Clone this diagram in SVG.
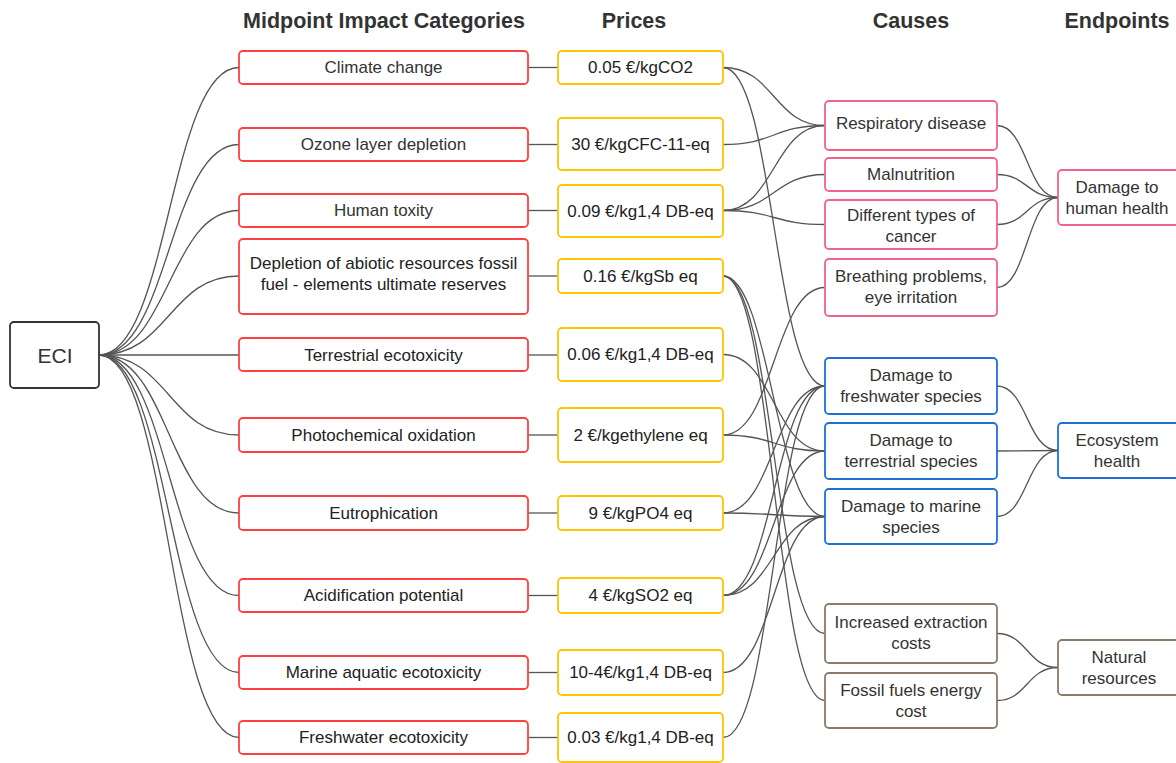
<svg xmlns="http://www.w3.org/2000/svg" width="1176" height="763" viewBox="0 0 1176 763">
<style>
text{font-family:"Liberation Sans",Arial,sans-serif;font-size:17px;text-anchor:middle;dominant-baseline:central;fill:#222}
.h{font-size:21.5px;font-weight:bold;fill:#333;dominant-baseline:auto}
rect{fill:#fff;stroke-width:1.8}
.eci{stroke:#333}
.mid{stroke:#ff4040}
.pr{stroke:#ffc500}
.pk{stroke:#f0648c}
.bl{stroke:#1f6fd6}
.br{stroke:#8c7b68}
.g{fill:#333}
#connectors path{fill:none;stroke:#555;stroke-width:1.3}
</style>
<rect x="0" y="0" width="1176" height="763" style="fill:#fff;stroke:none"/>
<g id="headers">
<text class="h" x="384" y="28">Midpoint Impact Categories</text>
<text class="h" x="634" y="28">Prices</text>
<text class="h" x="911" y="28">Causes</text>
<text class="h" x="1117" y="28">Endpoints</text>
</g>
<g id="connectors">
<!-- ECI to midpoints -->
<path d="M99,355 C169,355 169,67.5 239,67.5"/>
<path d="M99,355 C169,355 169,144.5 239,144.5"/>
<path d="M99,355 C169,355 169,210.5 239,210.5"/>
<path d="M99,355 C169,355 169,276 239,276"/>
<path d="M99,355 L239,355"/>
<path d="M99,355 C169,355 169,435 239,435"/>
<path d="M99,355 C169,355 169,513 239,513"/>
<path d="M99,355 C169,355 169,595.5 239,595.5"/>
<path d="M99,355 C169,355 169,672.5 239,672.5"/>
<path d="M99,355 C169,355 169,737.5 239,737.5"/>
<!-- midpoints to prices -->
<path d="M528,67.5 L558,67.5"/>
<path d="M528,144.5 L558,144.5"/>
<path d="M528,210.5 L558,210.5"/>
<path d="M528,276 L558,276"/>
<path d="M528,355 L558,355"/>
<path d="M528,435 L558,435"/>
<path d="M528,513 L558,513"/>
<path d="M528,595.5 L558,595.5"/>
<path d="M528,672.5 L558,672.5"/>
<path d="M528,737.5 L558,737.5"/>
<!-- prices to causes -->
<path d="M723,67.5 C774,67.5 774,125.5 825,125.5"/>
<path d="M723,67.5 C774,67.5 774,386 825,386"/>
<path d="M723,144.5 C774,144.5 774,125.5 825,125.5"/>
<path d="M723,210.5 C774,210.5 774,125.5 825,125.5"/>
<path d="M723,210.5 C774,210.5 774,174.5 825,174.5"/>
<path d="M723,210.5 C774,210.5 774,224.5 825,224.5"/>
<path d="M723,276 C774,276 774,633.5 825,633.5"/>
<path d="M723,276 C774,276 774,700.5 825,700.5"/>
<path d="M723,276 C770,276 776,516.5 825,516.5"/>
<path d="M723,354.5 C774,354.5 774,451 825,451"/>
<path d="M723,435 C774,435 774,287.5 825,287.5"/>
<path d="M723,435 C774,435 774,451 825,451"/>
<path d="M723,513 C774,513 774,386 825,386"/>
<path d="M723,513 C774,513 774,516.5 825,516.5"/>
<path d="M723,595.5 C774,595.5 774,386 825,386"/>
<path d="M723,595.5 C774,595.5 774,451 825,451"/>
<path d="M723,595.5 C774,595.5 774,516.5 825,516.5"/>
<path d="M723,672.5 C774,672.5 774,516.5 825,516.5"/>
<path d="M723,737.5 C774,737.5 774,386 825,386"/>
<!-- causes to endpoints -->
<path d="M997,125.5 C1027,125.5 1027,197.5 1058,197.5"/>
<path d="M997,174.5 C1027,174.5 1027,197.5 1058,197.5"/>
<path d="M997,224.5 C1027,224.5 1027,197.5 1058,197.5"/>
<path d="M997,287.5 C1027,287.5 1027,197.5 1058,197.5"/>
<path d="M997,386 C1027,386 1027,450.5 1058,450.5"/>
<path d="M997,451 L1058,450.5"/>
<path d="M997,516.5 C1027,516.5 1027,450.5 1058,450.5"/>
<path d="M997,633.5 C1027,633.5 1027,667.5 1058,667.5"/>
<path d="M997,700.5 C1027,700.5 1027,667.5 1058,667.5"/>
</g>
<g id="eci"><rect class="eci" x="10" y="322" width="89" height="66" rx="4"/><text x="55" y="355" style="font-size:21px" class="g">ECI</text></g>
<g id="m1"><rect class="mid" x="239" y="51" width="289" height="33" rx="4"/><text class="g" x="383.5" y="67.5">Climate change</text></g>
<g id="m2"><rect class="mid" x="239" y="128" width="289" height="33" rx="4"/><text class="g" x="383.5" y="144.5">Ozone layer depletion</text></g>
<g id="m3"><rect class="mid" x="239" y="194" width="289" height="33" rx="4"/><text class="g" x="383.5" y="210.5">Human toxity</text></g>
<g id="m4"><rect class="mid" x="239" y="239" width="289" height="75" rx="4"/><text x="383.5" y="263">Depletion of abiotic resources fossil</text><text x="383.5" y="284">fuel - elements ultimate reserves</text></g>
<g id="m5"><rect class="mid" x="239" y="338" width="289" height="33" rx="4"/><text x="383.5" y="355">Terrestrial ecotoxicity</text></g>
<g id="m6"><rect class="mid" x="239" y="418" width="289" height="34" rx="4"/><text x="383.5" y="435">Photochemical oxidation</text></g>
<g id="m7"><rect class="mid" x="239" y="496" width="289" height="34" rx="4"/><text x="383.5" y="513">Eutrophication</text></g>
<g id="m8"><rect class="mid" x="239" y="579" width="289" height="33" rx="4"/><text x="383.5" y="595.5">Acidification potential</text></g>
<g id="m9"><rect class="mid" x="239" y="656" width="289" height="33" rx="4"/><text x="383.5" y="672.5">Marine aquatic ecotoxicity</text></g>
<g id="m10"><rect class="mid" x="239" y="721" width="289" height="33" rx="4"/><text x="383.5" y="737.5">Freshwater ecotoxicity</text></g>
<g id="p1"><rect class="pr" x="558" y="51" width="165" height="33" rx="4"/><text x="640.5" y="67.5">0.05 €/kgCO2</text></g>
<g id="p2"><rect class="pr" x="558" y="118" width="165" height="52" rx="4"/><text x="640.5" y="144">30 €/kgCFC-11-eq</text></g>
<g id="p3"><rect class="pr" x="558" y="185" width="165" height="52" rx="4"/><text x="640.5" y="211">0.09 €/kg1,4 DB-eq</text></g>
<g id="p4"><rect class="pr" x="558" y="259" width="165" height="34" rx="4"/><text x="640.5" y="276">0.16 €/kgSb eq</text></g>
<g id="p5"><rect class="pr" x="558" y="328" width="165" height="53" rx="4"/><text x="640.5" y="354.5">0.06 €/kg1,4 DB-eq</text></g>
<g id="p6"><rect class="pr" x="558" y="408" width="165" height="54" rx="4"/><text x="640.5" y="435">2 €/kgethylene eq</text></g>
<g id="p7"><rect class="pr" x="558" y="496" width="165" height="34" rx="4"/><text x="640.5" y="513">9 €/kgPO4 eq</text></g>
<g id="p8"><rect class="pr" x="558" y="578" width="165" height="35" rx="4"/><text x="640.5" y="595.5">4 €/kgSO2 eq</text></g>
<g id="p9"><rect class="pr" x="558" y="650" width="165" height="45" rx="4"/><text x="640.5" y="672.5">10-4€/kg1,4 DB-eq</text></g>
<g id="p10"><rect class="pr" x="558" y="713" width="165" height="49" rx="4"/><text x="640.5" y="737.5">0.03 €/kg1,4 DB-eq</text></g>
<g id="c1"><rect class="pk" x="825" y="101" width="172" height="49" rx="4"/><text class="g" x="911" y="123.5">Respiratory disease</text></g>
<g id="c2"><rect class="pk" x="825" y="158" width="172" height="33" rx="4"/><text class="g" x="911" y="174.5">Malnutrition</text></g>
<g id="c3"><rect class="pk" x="825" y="200" width="172" height="49" rx="4"/><text class="g" x="911" y="215">Different types of</text><text class="g" x="911" y="236">cancer</text></g>
<g id="c4"><rect class="pk" x="825" y="259" width="172" height="57" rx="4"/><text class="g" x="911" y="276">Breathing problems,</text><text class="g" x="911" y="297">eye irritation</text></g>
<g id="c5"><rect class="bl" x="825" y="358" width="172" height="56" rx="4"/><text class="g" x="911" y="375">Damage to</text><text class="g" x="911" y="396">freshwater species</text></g>
<g id="c6"><rect class="bl" x="825" y="423" width="172" height="56" rx="4"/><text class="g" x="911" y="440">Damage to</text><text class="g" x="911" y="461">terrestrial species</text></g>
<g id="c7"><rect class="bl" x="825" y="489" width="172" height="55" rx="4"/><text class="g" x="911" y="506">Damage to marine</text><text class="g" x="911" y="527">species</text></g>
<g id="c8"><rect class="br" x="825" y="604" width="172" height="59" rx="4"/><text class="g" x="911" y="622">Increased extraction</text><text class="g" x="911" y="643">costs</text></g>
<g id="c9"><rect class="br" x="825" y="673" width="172" height="55" rx="4"/><text class="g" x="911" y="690">Fossil fuels energy</text><text class="g" x="911" y="711">cost</text></g>
<g id="e1"><rect class="pk" x="1058" y="170" width="122" height="55" rx="4"/><text class="g" x="1117" y="187">Damage to</text><text class="g" x="1117" y="208">human health</text></g>
<g id="e2"><rect class="bl" x="1058" y="423" width="122" height="55" rx="4"/><text class="g" x="1117" y="440">Ecosystem</text><text class="g" x="1117" y="461">health</text></g>
<g id="e3"><rect class="br" x="1058" y="640" width="122" height="55" rx="4"/><text class="g" x="1119" y="657">Natural</text><text class="g" x="1119" y="678">resources</text></g>
</svg>
